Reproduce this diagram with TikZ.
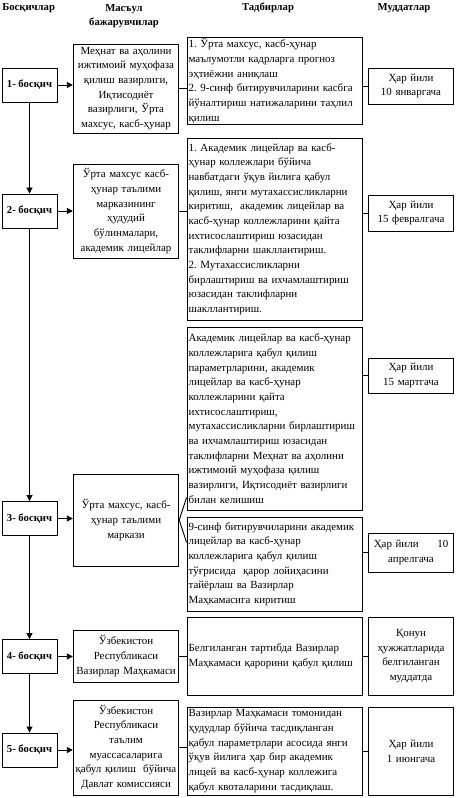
\documentclass[tikz,border=0pt]{standalone}
\usepackage{fontspec}
\setmainfont{Liberation Serif}
\frenchspacing
\usetikzlibrary{arrows.meta}
\tikzset{
  boite/.style={rectangle, draw, line width=0.7pt, inner sep=0.8pt,
    font=\fontsize{8.2}{11}\selectfont},
  etape/.style={boite, font=\fontsize{8}{11}\selectfont\bfseries,
    minimum width=41.25pt, minimum height=25.5pt},
  resp/.style={boite, text width=77.5pt, align=center},
  tache/.style={boite, inner xsep=1.2pt, text width=128.8pt, align=left},
  delai/.style={boite, text width=62.5pt, align=center},
  entete/.style={font=\fontsize{8}{11}\selectfont\bfseries, align=center, inner sep=0pt},
  fleche/.style={-{Triangle[length=4.5pt, width=4.5pt]}, line width=0.7pt},
  trait/.style={line width=0.7pt},
}

\begin{document}
\begin{tikzpicture}[x=0.75pt, y=-0.75pt]
  \useasboundingbox (0,0) rectangle (456,798);
  % En-têtes
  \node[entete, anchor=west] (h1) at (2,8) {Босқичлар};
  \node[entete] (h2) at (124,16) {Масъул\\ бажарувчилар};
  \node[entete] (h3) at (268,8) {Тадбирлар};
  \node[entete] (h4) at (404,8) {Муддатлар};

  % Босқичлар
  \foreach \i/\y in {1/85, 2/211, 3/518.5, 4/656.5, 5/750}
    \node[etape] (e\i) at (29.5,\y) {\i- босқич};
  \foreach \i/\j in {1/2, 2/3, 3/4, 4/5}
    \draw[fleche] (e\i) -- (e\j);

  % Масъул бажарувчилар
  \node[resp, minimum height=66.75pt] (r1) at (126,88.5)
    {Меҳнат ва аҳолини\\ ижтимоий муҳофаза\\ қилиш вазирлиги,\\ Иқтисодиёт\\ вазирлиги, Ўрта\\ махсус, касб-ҳунар};
  \node[resp, minimum height=70.5pt] (r2) at (126,211)
    {Ўрта махсус касб-\\ ҳунар таълими\\ марказининг\\ ҳудудий\\ бўлинмалари,\\ академик лицейлар};
  \node[resp, minimum height=69pt] (r3) at (126,520)
    {Ўрта махсус, касб-\\ ҳунар таълими\\ маркази};
  \node[resp, minimum height=39pt] (r4) at (126,656)
    {Ўзбекистон\\ Республикаси\\ Вазирлар Маҳкамаси};
  \node[resp, minimum height=71.25pt] (r5) at (126,747.5)
    {Ўзбекистон\\ Республикаси\\ таълим\\ муассасаларига\\ қабул қилиш~ бўйича\\ Давлат комиссияси};

  % Тадбирлар
  \node[tache, minimum height=64.5pt] (t1) at (274.5,81)
    {1. Ўрта махсус, касб-ҳунар\\ маълумотли кадрларга прогноз\\ эҳтиёжни аниқлаш\\ 2. 9-синф битирувчиларини касбга\\ йўналтириш натижаларини таҳлил\\ қилиш};
  \node[tache, minimum height=136.5pt] (t2) at (274.5,229)
    {1. Академик лицейлар ва касб-\\ ҳунар коллежлари бўйича\\ навбатдаги ўқув йилига қабул\\ қилиш, янги мутахассисликларни\\ киритиш,~ академик лицейлар ва\\ касб-ҳунар коллежларини қайта\\ ихтисослаштириш юзасидан\\ таклифларни шакллантириш.\\ 2. Мутахассисликларни\\ бирлаштириш ва ихчамлаштириш\\ юзасидан таклифларни\\ шакллантириш.};
  \node[tache, minimum height=137.25pt] (t3a) at (274.5,418.5)
    {Академик лицейлар ва касб-ҳунар\\ коллежларига қабул қилиш\\ параметрларини, академик\\ лицейлар ва касб-ҳунар\\ коллежларини қайта\\ ихтисослаштириш,\\ мутахассисликларни бирлаштириш\\ ва ихчамлаштириш юзасидан\\ таклифларни Меҳнат ва аҳолини\\ ижтимоий муҳофаза қилиш\\ вазирлиги, Иқтисодиёт вазирлиги\\ билан келишиш};
  \node[tache, minimum height=70.5pt] (t3b) at (274.5,564)
    {9-синф битирувчиларини академик\\ лицейлар ва касб-ҳунар\\ коллежларига қабул қилиш\\ тўғрисида~ қарор лойиҳасини\\ тайёрлаш ва Вазирлар\\ Маҳкамасига киритиш};
  \node[tache, minimum height=58.5pt] (t4) at (274.5,656)
    {Белгиланган тартибда Вазирлар\\ Маҳкамаси қарорини қабул қилиш};
  \node[tache, minimum height=66pt] (t5) at (274.5,751)
    {Вазирлар Маҳкамаси томонидан\\ ҳудудлар бўйича тасдиқланган\\ қабул параметрлари асосида янги\\ ўқув йилига ҳар бир академик\\ лицей ва касб-ҳунар коллежига\\ қабул квоталарини тасдиқлаш.};

  % Муддатлар
  \node[delai, minimum height=27pt] (d1) at (411,86) {Ҳар йили\\ 10 январгача};
  \node[delai, minimum height=27pt] (d2) at (411,213) {Ҳар йили\\ 15 февралгача};
  \node[delai, minimum height=26.25pt] (d3a) at (411,375.5) {Ҳар йили\\ 15 мартгача};
  \node[delai, minimum height=29.25pt] (d3b) at (411,552.5) {Ҳар йили\hspace{14pt}10\\ апрелгача};
  \node[delai, minimum height=58.5pt] (d4) at (411,656) {Қонун\\ ҳужжатларида\\ белгиланган\\ муддатда};
  \node[delai, minimum height=66pt] (d5) at (411,751) {Ҳар йили\\ 1 июнгача};

  % Боғланишлар
  \foreach \i in {1,...,5}
    \draw[fleche] (e\i.east) -- (e\i.east -| r\i.west);
  \foreach \i in {1,2,4,5}
    \draw[trait] (r\i.east) -- (r\i.east -| t\i.west);
  \draw[trait] ([yshift=9.75pt]t3a.south west) -- (r3.east) -- ([yshift=-19.5pt]t3b.north west);
  \foreach \i in {1,2,3a,3b,4,5}
    \draw[trait] (d\i.west) -- (d\i.west -| t\i.east);
\end{tikzpicture}
\end{document}
